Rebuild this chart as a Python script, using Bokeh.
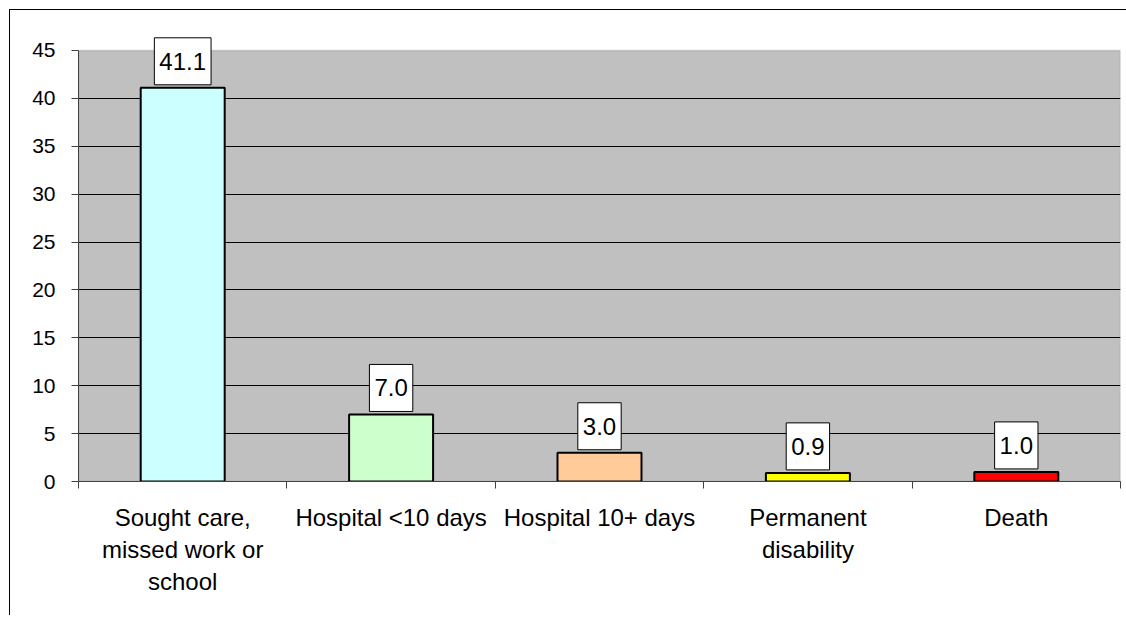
from bokeh.plotting import figure
from bokeh.models import ColumnDataSource, Label, LinearAxis, FixedTicker, Range1d, BoxAnnotation
from bokeh.embed import file_html
from bokeh.resources import INLINE

categories = ["Sought care,\nmissed work or\nschool", "Hospital <10 days",
              "Hospital 10+ days", "Permanent\ndisability", "Death"]
values = [41.1, 7.0, 3.0, 0.9, 1.0]
value_labels = ["41.1", "7.0", "3.0", "0.9", "1.0"]
colors = ["#CCFFFF", "#CCFFCC", "#FFCC99", "#FFFF00", "#FF0000"]
y_ticks = [0, 5, 10, 15, 20, 25, 30, 35, 40, 45]
y_max = 45

FONT = "Liberation Sans"
n = len(categories)
xs = list(range(1, n + 1))
src = ColumnDataSource(dict(x=xs, top=values, color=colors))

p = figure(width=1117, height=606, x_range=Range1d(0.5, n + 0.5), y_range=Range1d(0, 47.5),
           output_backend="svg", toolbar_location=None,
           min_border_left=68, min_border_top=16, min_border_right=7, min_border_bottom=135)
p.margin = (9, 0, 0, 9)
p.styles = {"border-top": "1px solid black", "border-left": "1px solid black"}
p.background_fill_color = "white"
p.border_fill_color = "white"
p.outline_line_color = None

# plot area (gray) limited to 0..45
p.add_layout(BoxAnnotation(bottom=0, top=y_max, fill_color="#C0C0C0", fill_alpha=1,
                           line_color="#808080", line_width=1.5, level="image"))

p.vbar(x="x", top="top", width=0.403, bottom=0, source=src, fill_color="color",
       line_color="black", line_width=2)

# y axis
p.yaxis.ticker = FixedTicker(ticks=y_ticks)
p.yaxis.bounds = (0, y_max)
p.yaxis.major_label_text_font = FONT
p.yaxis.major_label_text_font_size = "21px"
p.yaxis.major_label_text_color = "black"
p.yaxis.major_label_standoff = 16
p.yaxis.major_tick_out = 7
p.yaxis.major_tick_in = 0
p.yaxis.minor_tick_line_color = None
p.yaxis.axis_line_color = "#404040"
p.yaxis.major_tick_line_color = "#404040"
p.ygrid.ticker = FixedTicker(ticks=y_ticks[1:-1])
p.ygrid.grid_line_color = "black"
p.ygrid.level = "underlay"
p.xgrid.grid_line_color = None

# x axis: tick marks at category boundaries
p.xaxis.ticker = FixedTicker(ticks=[i + 0.5 for i in range(n + 1)])
p.xaxis.major_label_text_font_size = "0px"
p.xaxis.major_label_standoff = 0
p.xaxis.major_tick_out = 7
p.xaxis.major_tick_in = 0
p.xaxis.minor_tick_line_color = None
p.xaxis.axis_line_color = "#404040"
p.xaxis.major_tick_line_color = "#404040"

# category label axis
cat_axis = LinearAxis(ticker=FixedTicker(ticks=xs),
                      major_label_overrides={x: c for x, c in zip(xs, categories)},
                      axis_line_color=None, major_tick_line_color=None,
                      minor_tick_line_color=None, major_label_standoff=9,
                      major_label_text_font=FONT, major_label_text_font_size="24px",
                      major_label_text_color="black",
                      major_label_text_line_height=1.2)
p.add_layout(cat_axis, "below")

for x, v, t in zip(xs, values, value_labels):
    p.add_layout(Label(x=x, y=v, text=t, text_align="center", text_baseline="bottom",
                       y_offset=3, text_font=FONT, text_font_size="24px", text_color="black",
                       background_fill_color="white", border_line_color="black",
                       border_line_width=1,
                       padding=dict(left=5, right=5, top=15, bottom=15)))

open("out.html", "w").write(file_html(p, INLINE))
